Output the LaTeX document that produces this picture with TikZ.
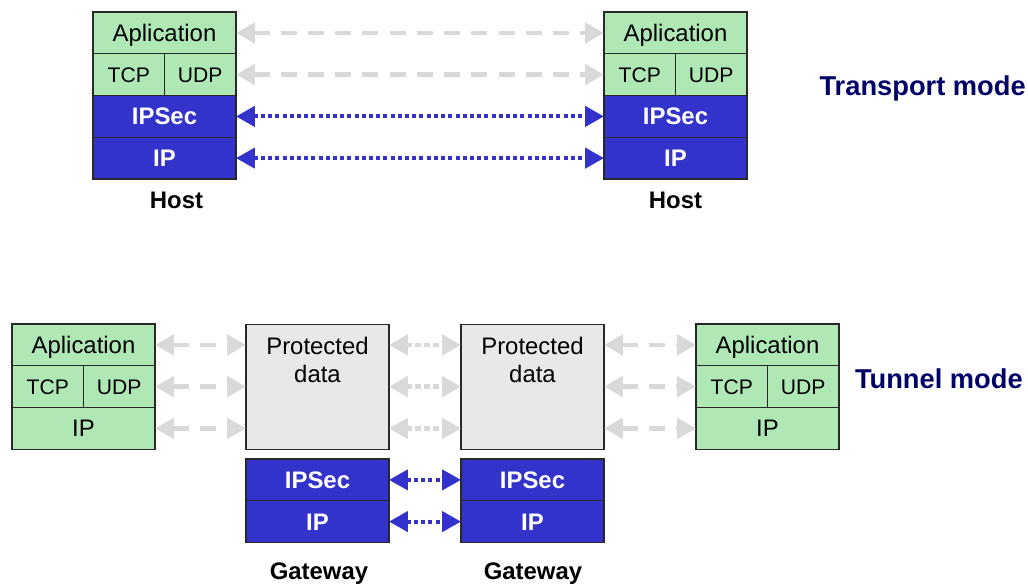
\documentclass[tikz,border=0pt]{standalone}
\usepackage{fontspec}
\setmainfont{Liberation Sans}
\usetikzlibrary{arrows.meta}
\definecolor{appgreen}{RGB}{175,232,180}
\definecolor{secblue}{RGB}{51,51,204}
\definecolor{datagray}{RGB}{232,232,232}
\definecolor{linkgray}{RGB}{217,217,217}
\definecolor{titlenavy}{RGB}{0,0,102}
\definecolor{edgegray}{RGB}{40,40,40}

\begin{document}
\begin{tikzpicture}[
  x=0.025cm, y=-0.025cm,
  >={Triangle[length=0.47cm, width=0.5cm]},
  cell/.style={draw=edgegray, line width=0.8pt, fill=appgreen, minimum width=3.575cm, minimum height=1.044cm, inner sep=0pt, outer sep=0pt, text height=12.2pt, text depth=0pt, font=\fontsize{17}{20}\selectfont},
  halfcell/.style={cell, minimum width=1.7875cm, text height=10.7pt, font=\fontsize{15}{18}\selectfont},
  seccell/.style={cell, fill=secblue, text=white, font=\fontsize{17}{20}\selectfont\bfseries},
  databox/.style={cell, fill=datagray, minimum height=3.125cm},
  caption/.style={font=\fontsize{17}{20}\selectfont\bfseries},
  modetitle/.style={font=\fontsize{19.4}{22}\selectfont\bfseries, text=titlenavy, inner sep=0pt},
  graylink/.style={<->, linkgray, line width=3.4pt, dash pattern=on 0.4cm off 0.28cm},
  grayfine/.style={graylink, dash pattern=on 0.14cm off 0.08cm},
  seclink/.style={<->, secblue, line width=2.8pt, dash pattern=on 0.1cm off 0.08cm}
]
  \useasboundingbox (0,0) rectangle (1028,587);

  % === TOP: Transport mode ===
  % Left host
  \node[cell] (happ1) at (164.5, 32.9) {Aplication};
  \node[halfcell] (htcp1) at (128.75, 74.6) {TCP};
  \node[halfcell] (hudp1) at (200.25, 74.6) {UDP};
  \node[seccell] (hsec1) at (164.5, 116.4) {IPSec};
  \node[seccell] (hip1) at (164.5, 158.1) {IP};
  \node[caption] (host1) at (176.5, 200) {Host};

  % Right host
  \node[cell] (happ2) at (675.5, 32.9) {Aplication};
  \node[halfcell] (htcp2) at (639.75, 74.6) {TCP};
  \node[halfcell] (hudp2) at (711.25, 74.6) {UDP};
  \node[seccell] (hsec2) at (675.5, 116.4) {IPSec};
  \node[seccell] (hip2) at (675.5, 158.1) {IP};
  \node[caption] (host2) at (675.5, 200) {Host};

  % Links
  \draw[graylink] (happ1.east) -- (happ2.west);
  \draw[graylink] (hudp1.east) -- (htcp2.west);
  \draw[seclink] (hsec1.east) -- (hsec2.west);
  \draw[seclink] (hip1.east) -- (hip2.west);

  \node[modetitle, anchor=east] (transport) at (1026, 88) {Transport mode};

  % === BOTTOM: Tunnel mode ===
  % Left end host
  \node[cell] (tapp1) at (83.5, 344.9) {Aplication};
  \node[halfcell] (ttcp1) at (47.75, 386.6) {TCP};
  \node[halfcell] (tudp1) at (119.25, 386.6) {UDP};
  \node[cell] (tip1) at (83.5, 428.4) {IP};

  % Gateways: protected data
  \node[databox] (pd1) at (317.5, 386.6) {};
  \node[align=center, font=\fontsize{17}{19.9}\selectfont] (pd1txt) at (317.5, 360) {Protected\\data};
  \node[databox] (pd2) at (532.5, 386.6) {};
  \node[align=center, font=\fontsize{17}{19.9}\selectfont] (pd2txt) at (532.5, 360) {Protected\\data};

  % Gateways: IPSec / IP
  \node[seccell] (gsec1) at (317.5, 479.9) {IPSec};
  \node[seccell] (gip1) at (317.5, 521.6) {IP};
  \node[seccell] (gsec2) at (532.5, 479.9) {IPSec};
  \node[seccell] (gip2) at (532.5, 521.6) {IP};
  \node[caption] (gw1) at (319, 574) {Gateway};
  \node[caption] (gw2) at (533, 574) {Gateway};

  % Right end host
  \node[cell] (tapp2) at (767.5, 344.9) {Aplication};
  \node[halfcell] (ttcp2) at (731.75, 386.6) {TCP};
  \node[halfcell] (tudp2) at (803.25, 386.6) {UDP};
  \node[cell] (tip2) at (767.5, 428.4) {IP};

  % Links host -- gateway
  \draw[graylink] (tapp1.east) -- (tapp1.east -| pd1.west);
  \draw[graylink] (tudp1.east) -- (tudp1.east -| pd1.west);
  \draw[graylink] (tip1.east) -- (tip1.east -| pd1.west);
  % Links gateway -- gateway
  \draw[grayfine] (pd1.east |- tapp1.east) -- (pd2.west |- tapp1.east);
  \draw[grayfine] (pd1.east |- tudp1.east) -- (pd2.west |- tudp1.east);
  \draw[grayfine] (pd1.east |- tip1.east) -- (pd2.west |- tip1.east);
  \draw[seclink] (gsec1.east) -- (gsec2.west);
  \draw[seclink] (gip1.east) -- (gip2.west);
  % Links gateway -- host
  \draw[graylink] (tapp2.west -| pd2.east) -- (tapp2.west);
  \draw[graylink] (ttcp2.west -| pd2.east) -- (ttcp2.west);
  \draw[graylink] (tip2.west -| pd2.east) -- (tip2.west);

  \node[modetitle, anchor=east] (tunnel) at (1023, 379) {Tunnel mode};
\end{tikzpicture}
\end{document}
